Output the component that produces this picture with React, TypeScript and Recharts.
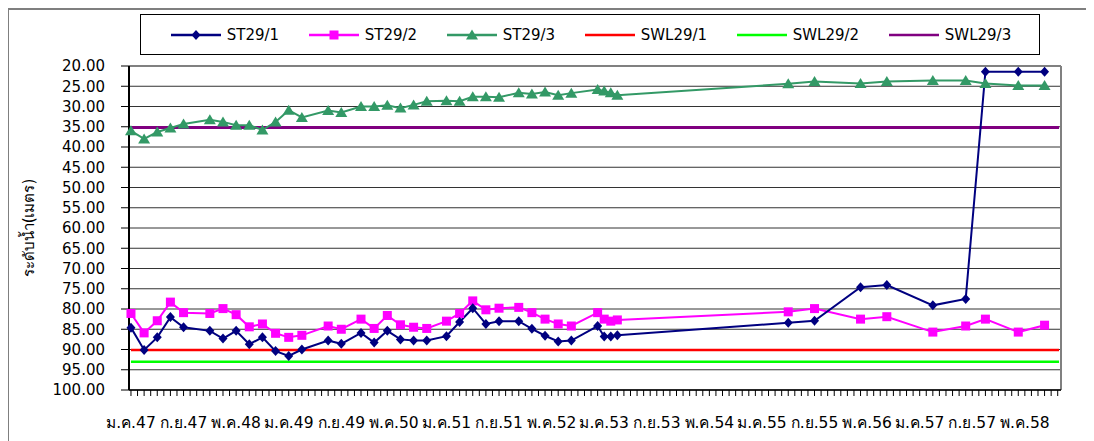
import { CartesianGrid, Line, LineChart, ReferenceLine, XAxis, YAxis } from 'recharts';

// month index, 0 = ม.ค.47
const months = [
  0, 2, 4, 6, 8, 12, 14, 16, 18, 20, 22, 24, 26, 30, 32, 35, 37, 39, 41, 43, 45, 48,
  50, 52, 54, 56, 59, 61, 63, 65, 67, 71, 72, 73, 74, 100, 104, 111, 115, 122, 127, 130, 135, 139,
];

const st1 = [
  84.6, 90.1, 87.0, 82.0, 84.5, 85.4, 87.3, 85.4, 88.7, 87.0, 90.4, 91.6, 90.0, 87.8, 88.6, 85.9,
  88.3, 85.4, 87.5, 87.8, 87.8, 86.7, 83.2, 79.8, 83.7, 83.0, 83.0, 84.9, 86.6, 88.0, 87.8, 84.2,
  86.8, 86.8, 86.5, 83.4, 82.9, 74.6, 74.1, 79.1, 77.5, 21.4, 21.4, 21.4,
];

const st2 = [
  81.1, 85.9, 82.9, 78.3, 80.9, 81.1, 79.9, 81.4, 84.4, 83.7, 86.0, 87.0, 86.5, 84.2, 85.0, 82.5,
  84.8, 81.6, 83.9, 84.5, 84.8, 83.0, 81.1, 78.0, 80.2, 79.8, 79.6, 80.9, 82.5, 83.7, 84.2, 80.9,
  82.5, 83.0, 82.7, 80.7, 79.9, 82.5, 81.9, 85.7, 84.2, 82.5, 85.7, 84.0,
];

const st3 = [
  36.0, 38.0, 36.3, 35.3, 34.3, 33.3, 33.8, 34.6, 34.6, 35.8, 33.8, 30.9, 32.7, 31.0, 31.5, 30.0,
  30.0, 29.7, 30.4, 29.6, 28.7, 28.6, 28.7, 27.6, 27.6, 27.7, 26.6, 26.9, 26.4, 27.2, 26.7, 25.8,
  26.2, 26.6, 27.2, 24.4, 23.8, 24.3, 23.8, 23.6, 23.6, 24.3, 24.8, 24.8,
];

const swlMonths = [0, 141.2];
const swl1 = [90.1, 90.1];
const swl2 = [93.0, 93.0];
const swl3 = [35.2, 35.2];

const yTicks = [20, 25, 30, 35, 40, 45, 50, 55, 60, 65, 70, 75, 80, 85, 90, 95, 100];
const xLabelMonths = [0, 8, 16, 24, 32, 40, 48, 56, 64, 72, 80, 88, 96, 104, 112, 120, 128, 136];
const xLabels = [
  'ม.ค.47', 'ก.ย.47', 'พ.ค.48', 'ม.ค.49', 'ก.ย.49', 'พ.ค.50', 'ม.ค.51', 'ก.ย.51', 'พ.ค.52',
  'ม.ค.53', 'ก.ย.53', 'พ.ค.54', 'ม.ค.55', 'ก.ย.55', 'พ.ค.56', 'ม.ค.57', 'ก.ย.57', 'พ.ค.58',
];
const monthTicks = Array.from({ length: 142 }, (_, i) => i);

const rows = months.map((m, i) => ({ m, st1: st1[i], st2: st2[i], st3: st3[i] }));
const swlRows = (vals: number[]) => swlMonths.map((m, i) => ({ m, v: vals[i] }));

const FONT = "Tahoma, 'DejaVu Sans', sans-serif";
const NAVY = '#000080';
const MAGENTA = '#FF00FF';
const SEA = '#339966';

const diamond = (cx: number, cy: number, fill: string) => (
  <path d={`M${cx},${cy - 5}L${cx + 4.5},${cy}L${cx},${cy + 5}L${cx - 4.5},${cy}Z`} fill={fill} />
);
const square = (cx: number, cy: number, fill: string) => (
  <rect x={cx - 4.5} y={cy - 4.5} width={9} height={9} fill={fill} />
);
const triangle = (cx: number, cy: number, fill: string) => (
  <path d={`M${cx},${cy - 5.5}L${cx + 6},${cy + 4.5}L${cx - 6},${cy + 4.5}Z`} fill={fill} />
);

const makeDot = (shape: typeof diamond, fill: string) => (props: any) => {
  const { cx, cy, index } = props;
  if (cx == null || cy == null) return <g key={index} />;
  return <g key={index}>{shape(cx, cy, fill)}</g>;
};

const XTick = (props: any) => {
  const { x, y, payload } = props;
  const idx = xLabelMonths.indexOf(payload.value);
  if (idx < 0) return <g />;
  return (
    <text x={x} y={y + 30} textAnchor="middle" fontFamily={FONT} fontSize={15.5} fill="#000">
      {xLabels[idx]}
    </text>
  );
};

const legendItems = [
  { name: 'ST29/1', color: NAVY, shape: diamond },
  { name: 'ST29/2', color: MAGENTA, shape: square },
  { name: 'ST29/3', color: SEA, shape: triangle },
  { name: 'SWL29/1', color: '#FF0000', shape: null },
  { name: 'SWL29/2', color: '#00FF00', shape: null },
  { name: 'SWL29/3', color: '#800080', shape: null },
];

const LegendBox = () => (
  <div
    style={{
      position: 'absolute',
      top: 4,
      left: 131,
      width: 900,
      boxSizing: 'border-box',
      border: '1px solid #000',
      height: 41,
      display: 'flex',
      alignItems: 'center',
      justifyContent: 'space-around',
      padding: '0 14px',
      background: '#fff',
      fontFamily: FONT,
      fontSize: 15,
      zIndex: 2,
    }}
  >
    {legendItems.map((it) => (
      <div key={it.name} style={{ display: 'flex', alignItems: 'center' }}>
        <svg width={54} height={14}>
          <line x1={2} y1={7} x2={52} y2={7} stroke={it.color} strokeWidth={2.5} />
          {it.shape && it.shape(27, 7, it.color)}
        </svg>
        <span style={{ marginLeft: 4 }}>{it.name}</span>
      </div>
    ))}
  </div>
);

export default function App() {
  return (
    <div
      style={{
        position: 'relative',
        width: 1086,
        height: 433,
        borderTop: '2px solid #7f7f7f',
        borderLeft: '1px solid #7f7f7f',
        boxSizing: 'border-box',
        overflow: 'hidden',
      }}
    >
      <LegendBox />
      <LineChart
        width={1085}
        height={431}
        data={rows}
        margin={{ top: 56, right: 33, bottom: 16, left: 0 }}
      >
        <CartesianGrid vertical={false} stroke="#333" strokeWidth={1} />
        <XAxis
          dataKey="m"
          type="number"
          domain={[-0.3, 141.5]}
          ticks={monthTicks}
          interval={0}
          height={35}
          tickSize={6}
          tick={<XTick />}
          axisLine={{ stroke: '#000', strokeWidth: 1.5 }}
          tickLine={{ stroke: '#000' }}
        />
        <YAxis
          type="number"
          reversed
          domain={[20, 100]}
          ticks={yTicks}
          interval={0}
          width={120}
          tickSize={8}
          tickMargin={16}
          tickFormatter={(v: number) => v.toFixed(2)}
          tick={{ fill: '#000', fontSize: 15, fontFamily: FONT }}
          axisLine={{ stroke: '#000', strokeWidth: 2 }}
          tickLine={{ stroke: '#000' }}
          label={{
            value: 'ระดับน้ำ(เมตร)',
            angle: -90,
            position: 'insideLeft',
            offset: 20,
            style: { fontFamily: FONT, fontSize: 15, fill: '#000', textAnchor: 'middle' },
          }}
        />
        <ReferenceLine y={20} stroke="#808080" strokeWidth={2} />
        <ReferenceLine x={141.5} stroke="#808080" strokeWidth={2} />
        <Line
          data={swlRows(swl1)}
          dataKey="v"
          name="SWL29/1"
          stroke="#FF0000"
          strokeWidth={2.5}
          dot={false}
          isAnimationActive={false}
        />
        <Line
          data={swlRows(swl2)}
          dataKey="v"
          name="SWL29/2"
          stroke="#00FF00"
          strokeWidth={2.5}
          dot={false}
          isAnimationActive={false}
        />
        <Line
          data={swlRows(swl3)}
          dataKey="v"
          name="SWL29/3"
          stroke="#800080"
          strokeWidth={3}
          dot={false}
          isAnimationActive={false}
        />
        <Line
          dataKey="st3"
          name="ST29/3"
          stroke={SEA}
          strokeWidth={2}
          dot={makeDot(triangle, SEA)}
          isAnimationActive={false}
        />
        <Line
          dataKey="st2"
          name="ST29/2"
          stroke={MAGENTA}
          strokeWidth={2}
          dot={makeDot(square, MAGENTA)}
          isAnimationActive={false}
        />
        <Line
          dataKey="st1"
          name="ST29/1"
          stroke={NAVY}
          strokeWidth={2}
          dot={makeDot(diamond, NAVY)}
          isAnimationActive={false}
        />
      </LineChart>
    </div>
  );
}
